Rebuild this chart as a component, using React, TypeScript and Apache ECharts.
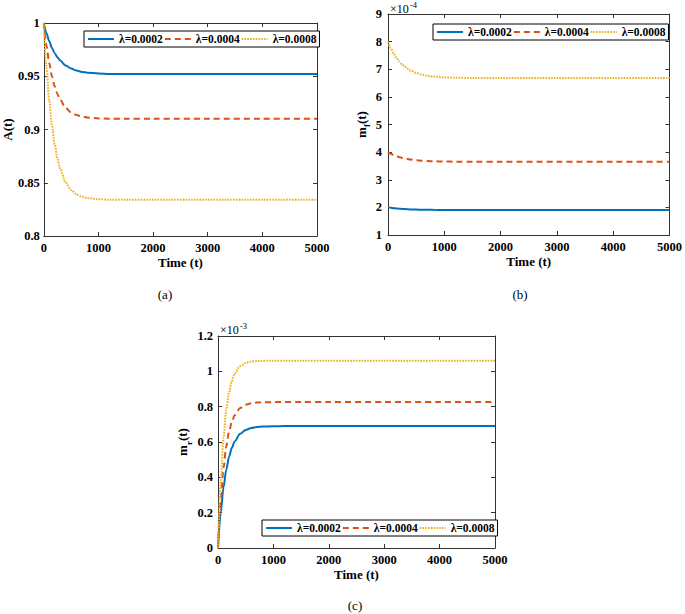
import React, { useEffect, useRef } from "react";
import * as echarts from "echarts";

const NAMES = ["λ=0.0002", "λ=0.0004", "λ=0.0008"];
const TIME = [0, 50, 100, 150, 200, 250, 300, 400, 500, 600, 700, 800, 1000, 1200, 1500, 2000, 3000, 4000, 5000];
const X_TICKS = [0, 1000, 2000, 3000, 4000, 5000];

// (a) A(t)
const aBlue = [1.0, 0.9904, 0.9828, 0.9766, 0.9717, 0.9678, 0.9647, 0.9601, 0.9572, 0.9553, 0.9541, 0.9534, 0.9526, 0.9522, 0.9521, 0.952, 0.952, 0.952, 0.952];
const aOrange = [1.0, 0.9787, 0.9624, 0.95, 0.9405, 0.9333, 0.9278, 0.9204, 0.916, 0.9135, 0.9121, 0.9112, 0.9104, 0.9101, 0.91, 0.91, 0.91, 0.91, 0.91];
const aYellow = [1.0, 0.9582, 0.9268, 0.9034, 0.886, 0.8728, 0.863, 0.8503, 0.8431, 0.8391, 0.8368, 0.8356, 0.8345, 0.8341, 0.834, 0.834, 0.834, 0.834, 0.834];

// (b) m_f(t), ×10^-4
const bBlue = [2.0, 1.984, 1.971, 1.96, 1.951, 1.943, 1.937, 1.927, 1.92, 1.916, 1.912, 1.91, 1.9075, 1.906, 1.905, 1.905, 1.905, 1.905, 1.905];
const bOrange = [4.0, 3.942, 3.893, 3.853, 3.819, 3.791, 3.768, 3.732, 3.707, 3.69, 3.677, 3.669, 3.659, 3.654, 3.652, 3.65, 3.65, 3.65, 3.65];
const bYellow = [8.0, 7.765, 7.572, 7.413, 7.283, 7.175, 7.087, 6.955, 6.866, 6.805, 6.765, 6.737, 6.706, 6.692, 6.684, 6.68, 6.68, 6.68, 6.68];

// (c) m_r(t), ×10^-3
const cBlue = [0, 0.2015, 0.3437, 0.4447, 0.5161, 0.5671, 0.603, 0.6463, 0.6681, 0.679, 0.6845, 0.6872, 0.6893, 0.69, 0.69, 0.69, 0.69, 0.69, 0.69];
const cOrange = [0, 0.2726, 0.4551, 0.5774, 0.6591, 0.7145, 0.7511, 0.7923, 0.8109, 0.8192, 0.8229, 0.8246, 0.8258, 0.826, 0.826, 0.826, 0.826, 0.826, 0.826];
const cYellow = [0, 0.3816, 0.6259, 0.7823, 0.8822, 0.9463, 0.9872, 1.0302, 1.0478, 1.055, 1.058, 1.0592, 1.06, 1.06, 1.06, 1.06, 1.06, 1.06, 1.06];

const Y_A = { min: 0.8, max: 1, interval: 0.05 };
const Y_B = { min: 1, max: 9, interval: 1 };
const Y_C = { min: 0, max: 1.2, interval: 0.2 };

const FONT = "'Liberation Serif', 'Times New Roman', serif";
const COLORS = ["#0072BD", "#D95319", "#EDB120"];
const AXIS_COLOR = "#333333";

export default function App() {
  const ref = useRef<HTMLDivElement>(null);

  useEffect(() => {
    document.body.style.margin = "0";
    if (!ref.current) return;
    const chart = echarts.init(ref.current, null, { renderer: "svg" });

    const grids = [
      { left: 40, top: 23, width: 277, height: 213 },
      { left: 388, top: 14, width: 285, height: 221 },
      { left: 218, top: 336, width: 277, height: 212 },
    ];
    const yRanges = [Y_A, Y_B, Y_C];
    const yNames = [
      "{b|A(t)}",
      "{b|m}{s|f}{b|(t)}",
      "{b|m}{s|r}{b|(t)}",
    ];
    const yNameGaps = [19, 17, 26];
    const yLabelMargins = [4, 6, 5];

    const tickLabel = { fontFamily: FONT, fontWeight: "bold" as const, fontSize: 12.5, color: "#000" };
    const nameStyleRich = {
      b: { fontFamily: FONT, fontWeight: "bold", fontSize: 13, color: "#000", lineHeight: 14, verticalAlign: "top" },
      s: { fontFamily: FONT, fontWeight: "bold", fontSize: 9, color: "#000", lineHeight: 9, padding: [8, 0, 0, 0], verticalAlign: "top" },
    };
    const plain = (v: number) => String(Math.round(v * 1000) / 1000);

    const xAxes: any[] = [];
    const yAxes: any[] = [];
    for (let i = 0; i < 3; i++) {
      xAxes.push({
        type: "value",
        gridIndex: i,
        position: "bottom",
        min: X_TICKS[0],
        max: X_TICKS[X_TICKS.length - 1],
        interval: X_TICKS[1] - X_TICKS[0],
        name: "Time (t)",
        nameLocation: "middle",
        nameGap: 20,
        nameTextStyle: { fontFamily: FONT, fontWeight: "bold", fontSize: 13, color: "#000" },
        axisLine: { show: true, onZero: false, lineStyle: { color: AXIS_COLOR, width: 1 } },
        axisTick: { show: true, inside: true, length: 4, lineStyle: { color: AXIS_COLOR } },
        axisLabel: { ...tickLabel, margin: 5, formatter: plain },
        splitLine: { show: false },
      });
      yAxes.push({
        type: "value",
        gridIndex: i,
        position: "left",
        min: yRanges[i].min,
        max: yRanges[i].max,
        interval: yRanges[i].interval,
        name: yNames[i],
        nameLocation: "middle",
        nameGap: yNameGaps[i],
        nameRotate: 90,
        nameTextStyle: { rich: nameStyleRich },
        axisLine: { show: true, onZero: false, lineStyle: { color: AXIS_COLOR, width: 1 } },
        axisTick: { show: true, inside: true, length: 4, lineStyle: { color: AXIS_COLOR } },
        axisLabel: { ...tickLabel, margin: yLabelMargins[i], formatter: plain },
        splitLine: { show: false },
      });
    }
    for (let i = 0; i < 3; i++) {
      xAxes.push({
        type: "value",
        gridIndex: i,
        position: "top",
        min: X_TICKS[0],
        max: X_TICKS[X_TICKS.length - 1],
        interval: X_TICKS[1] - X_TICKS[0],
        axisLine: { show: true, onZero: false, lineStyle: { color: AXIS_COLOR, width: 1 } },
        axisTick: { show: true, inside: true, length: 4, lineStyle: { color: AXIS_COLOR } },
        axisLabel: { show: false },
        splitLine: { show: false },
      });
      yAxes.push({
        type: "value",
        gridIndex: i,
        position: "right",
        min: yRanges[i].min,
        max: yRanges[i].max,
        interval: yRanges[i].interval,
        axisLine: { show: true, onZero: false, lineStyle: { color: AXIS_COLOR, width: 1 } },
        axisTick: { show: true, inside: true, length: 4, lineStyle: { color: AXIS_COLOR } },
        axisLabel: { show: false },
        splitLine: { show: false },
      });
    }

    const panels = [
      [aBlue, aOrange, aYellow],
      [bBlue, bOrange, bYellow],
      [cBlue, cOrange, cYellow],
    ];
    const lineTypes: any[] = ["solid", [6, 4], [1.6, 1.2]];
    const series: any[] = [];
    panels.forEach((vals, gi) => {
      vals.forEach((arr, si) => {
        series.push({
          type: "line",
          name: NAMES[si],
          xAxisIndex: gi,
          yAxisIndex: gi,
          data: TIME.map((t, k) => [t, arr[k]]),
          showSymbol: false,
          symbol: "none",
          smooth: 0.3,
          smoothMonotone: "x",
          lineStyle: { color: COLORS[si], width: 2, type: lineTypes[si] },
          itemStyle: { color: COLORS[si] },
          z: 2 + si,
        });
      });
    });

    const legendPos = [
      { left: 84, top: 31 },
      { left: 433, top: 24 },
      { left: 262, top: 520 },
    ];
    const legends = legendPos.map((p) => ({
      ...p,
      orient: "horizontal",
      data: NAMES,
      itemWidth: 26,
      itemHeight: 10,
      itemGap: 1,
      padding: [2, 3, 2, 3],
      backgroundColor: "#fff",
      borderColor: "#000",
      borderWidth: 1,
      borderRadius: 0,
      selectedMode: false,
      itemStyle: { opacity: 0 },
      textStyle: { fontFamily: FONT, fontWeight: "bold", fontSize: 11.5, color: "#000" },
    }));

    const txt = (x: number, y: number, text: string, size: number, extra: any = {}) => ({
      type: "text",
      x,
      y,
      style: {
        text,
        fontFamily: FONT,
        fontSize: size,
        fill: "#000",
        verticalAlign: "middle",
        ...extra,
      },
    });

    chart.setOption({
      animation: false,
      grid: grids.map((g) => ({ ...g, containLabel: false })),
      xAxis: xAxes,
      yAxis: yAxes,
      legend: legends,
      series,
      graphic: [
        txt(390, 9, "×10", 12),
        txt(410, 4.5, "-4", 8.5),
        txt(220, 330, "×10", 12),
        txt(240, 325.5, "-3", 8.5),
        txt(165, 294, "(a)", 13, { align: "center" }),
        txt(520, 294, "(b)", 13, { align: "center" }),
        txt(355, 605, "(c)", 13, { align: "center" }),
      ],
    });

    return () => chart.dispose();
  }, []);

  return <div ref={ref} style={{ width: 685, height: 614 }} />;
}
